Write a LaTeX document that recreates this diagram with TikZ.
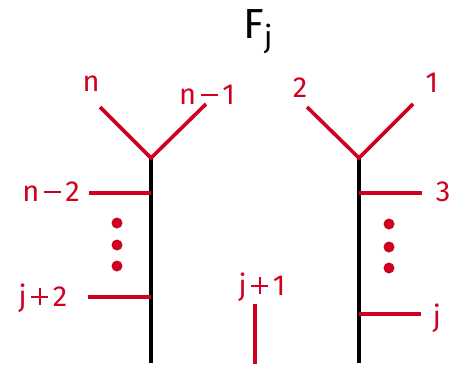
\documentclass[tikz,border=0pt]{standalone}
\usepackage{fontspec}
\setmainfont{Fira Sans}
\definecolor{lred}{RGB}{208,0,32}
\newcommand{\mysm}{\hspace{0.16em}\raisebox{0.3em}{\rule{0.58em}{0.065em}}\hspace{0.16em}}
\newcommand{\mysp}{\hspace{0.16em}\makebox[0.58em][l]{\raisebox{0.3em}{\rule{0.58em}{0.065em}}\hspace{-0.3225em}\raisebox{0.0425em}{\rule{0.065em}{0.58em}}}\hspace{0.16em}}
\begin{document}
\begin{tikzpicture}[x=1pt,y=-1pt,
  leg/.style={draw=lred,line width=3.6pt},
  trunk/.style={draw=black,line width=3.6pt},
  lab/.style={text=lred,font=\fontsize{29}{31}\selectfont,inner sep=0pt},
  dot/.style={fill=lred,circle,inner sep=0pt,minimum size=11pt}]
\useasboundingbox (0,0) rectangle (452,373);
\node[font=\fontsize{42}{44}\selectfont,inner sep=0pt,anchor=base] (title) at (258,38) {F\raisebox{-0.22em}{\fontsize{30}{32}\selectfont j}};
% left tree
\coordinate (La) at (151,158);
\coordinate (Lb) at (151,363);
\coordinate (Ln) at (100,107);
\coordinate (Lm) at (206,104);
\coordinate (L2s) at (89,193);
\coordinate (L2e) at (151,193);
\coordinate (Ljs) at (88,297);
\coordinate (Lje) at (151,297);
\draw[trunk] (La) -- (Lb);
\draw[leg] (Ln) -- (La) -- (Lm);
\draw[leg] (L2s) -- (L2e);
\draw[leg] (Ljs) -- (Lje);
\node[lab] (ln) at (91,84) {n};
\node[lab] (lm) at (207,95) {n\mysm1};
\node[lab] (l2) at (51,192) {n\mysm2};
\node[lab] (lj) at (43,298) {j\mysp2};
\node[dot] (d1) at (117,223) {};
\node[dot] (d2) at (117,245) {};
\node[dot] (d3) at (117,266) {};
% right tree
\coordinate (Ra) at (359,158);
\coordinate (Rb) at (359,363);
\coordinate (R2) at (307,107);
\coordinate (R1) at (413,104);
\coordinate (R3s) at (359,193);
\coordinate (R3e) at (422,193);
\coordinate (Rjs) at (359,314);
\coordinate (Rje) at (421,314);
\draw[trunk] (Ra) -- (Rb);
\draw[leg] (R2) -- (Ra) -- (R1);
\draw[leg] (R3s) -- (R3e);
\draw[leg] (Rjs) -- (Rje);
\node[lab] (r2) at (300,88) {2};
\node[lab] (r1) at (432,83) {1};
\node[lab] (r3) at (443,192) {3};
\node[lab] (rj) at (437,318) {j};
\node[dot] (e1) at (389,224) {};
\node[dot] (e2) at (389,247) {};
\node[dot] (e3) at (389,268) {};
% middle
\coordinate (Ms) at (255,304);
\coordinate (Me) at (255,364);
\draw[leg] (Ms) -- (Me);
\node[lab] (mj) at (262,287) {j\mysp1};
\end{tikzpicture}
\end{document}
